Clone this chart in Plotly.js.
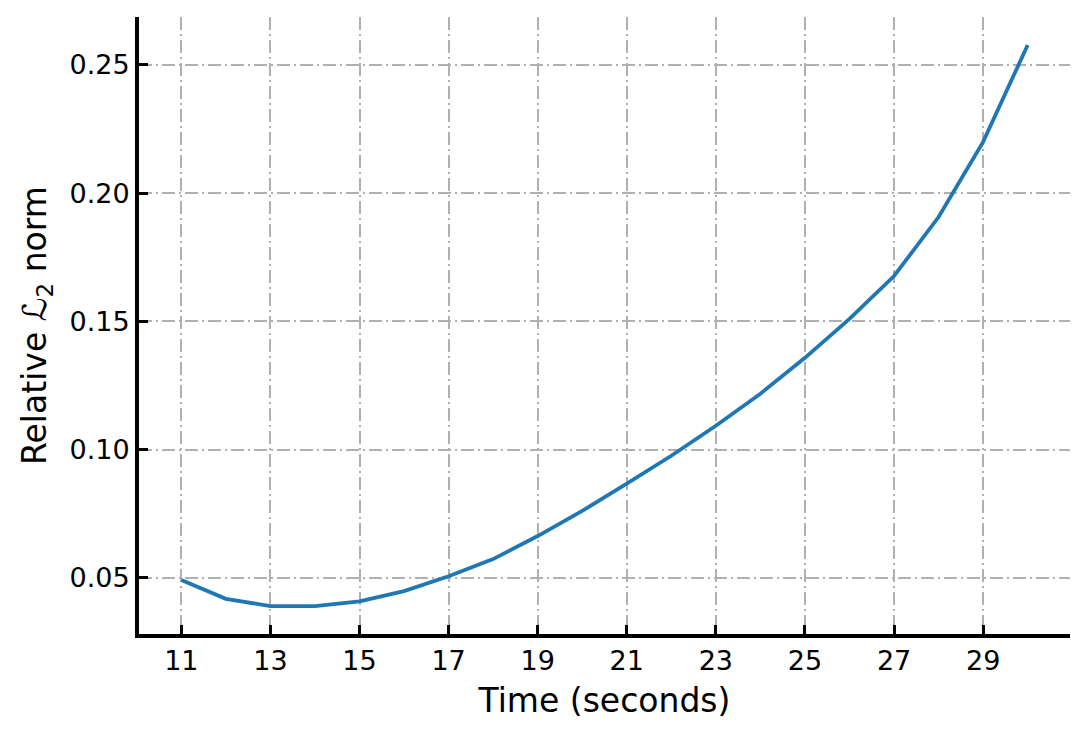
<!DOCTYPE html>
<html>
<head>
<meta charset="utf-8">
<script src="https://cdn.plot.ly/plotly-3.0.1.min.js"></script>
<style>html,body{margin:0;padding:0;background:#fff;}#chart{width:1088px;height:737px;}</style>
</head>
<body>
<div id="chart"></div>
<script>
const timeSeconds = [11, 12, 13, 14, 15, 16, 17, 18, 19, 20, 21, 22, 23, 24, 25, 26, 27, 28, 29, 30];
const relativeL2 = [0.0492, 0.0418, 0.0390, 0.0390, 0.0408, 0.0448, 0.0506, 0.0573, 0.0663, 0.0761, 0.0867, 0.0976, 0.1093, 0.1218, 0.1358, 0.1510, 0.1677, 0.1907, 0.2200, 0.2578];
const xTicks = [11, 13, 15, 17, 19, 21, 23, 25, 27, 29];
const yTicks = [0.05, 0.10, 0.15, 0.20, 0.25];

const font = 'DejaVu Sans, sans-serif';
const trace = {
  x: timeSeconds, y: relativeL2, type: 'scatter', mode: 'lines',
  line: {color: '#1f77b4', width: 3.8}, hoverinfo: 'x+y'
};
const gridDash = '13px,4px,2px,4px';
const layout = {
  width: 1088, height: 737,
  margin: {l: 139, r: 18, t: 17, b: 103},
  paper_bgcolor: '#fff', plot_bgcolor: '#fff',
  showlegend: false,
  font: {family: font, color: '#000'},
  xaxis: {
    range: [10.05, 30.95], tickvals: xTicks, ticktext: xTicks.map(String),
    showline: true, linecolor: '#000', linewidth: 4, mirror: false,
    ticks: 'inside', ticklen: 9, tickwidth: 3, tickcolor: '#000',
    showgrid: true, gridcolor: '#b0b0b0', gridwidth: 2, griddash: gridDash,
    zeroline: false, tickfont: {family: font, size: 27, color: '#000'},
    title: {text: 'Time (seconds)', font: {family: font, size: 33, color: '#000'}, standoff: 14}
  },
  yaxis: {
    range: [0.0281, 0.2687], tickvals: yTicks, ticktext: yTicks.map(v => v.toFixed(2)),
    showline: true, linecolor: '#000', linewidth: 4, mirror: false,
    ticks: 'inside', ticklen: 9, tickwidth: 3, tickcolor: '#000',
    showgrid: true, gridcolor: '#b0b0b0', gridwidth: 2, griddash: gridDash,
    zeroline: false, tickfont: {family: font, size: 27, color: '#000'},
    title: {text: 'Relative ℒ<sub>2</sub> norm', font: {family: font, size: 33, color: '#000'}, standoff: 14}
  }
};
Plotly.newPlot('chart', [trace], layout, {displayModeBar: false, staticPlot: true});
</script>
</body>
</html>
